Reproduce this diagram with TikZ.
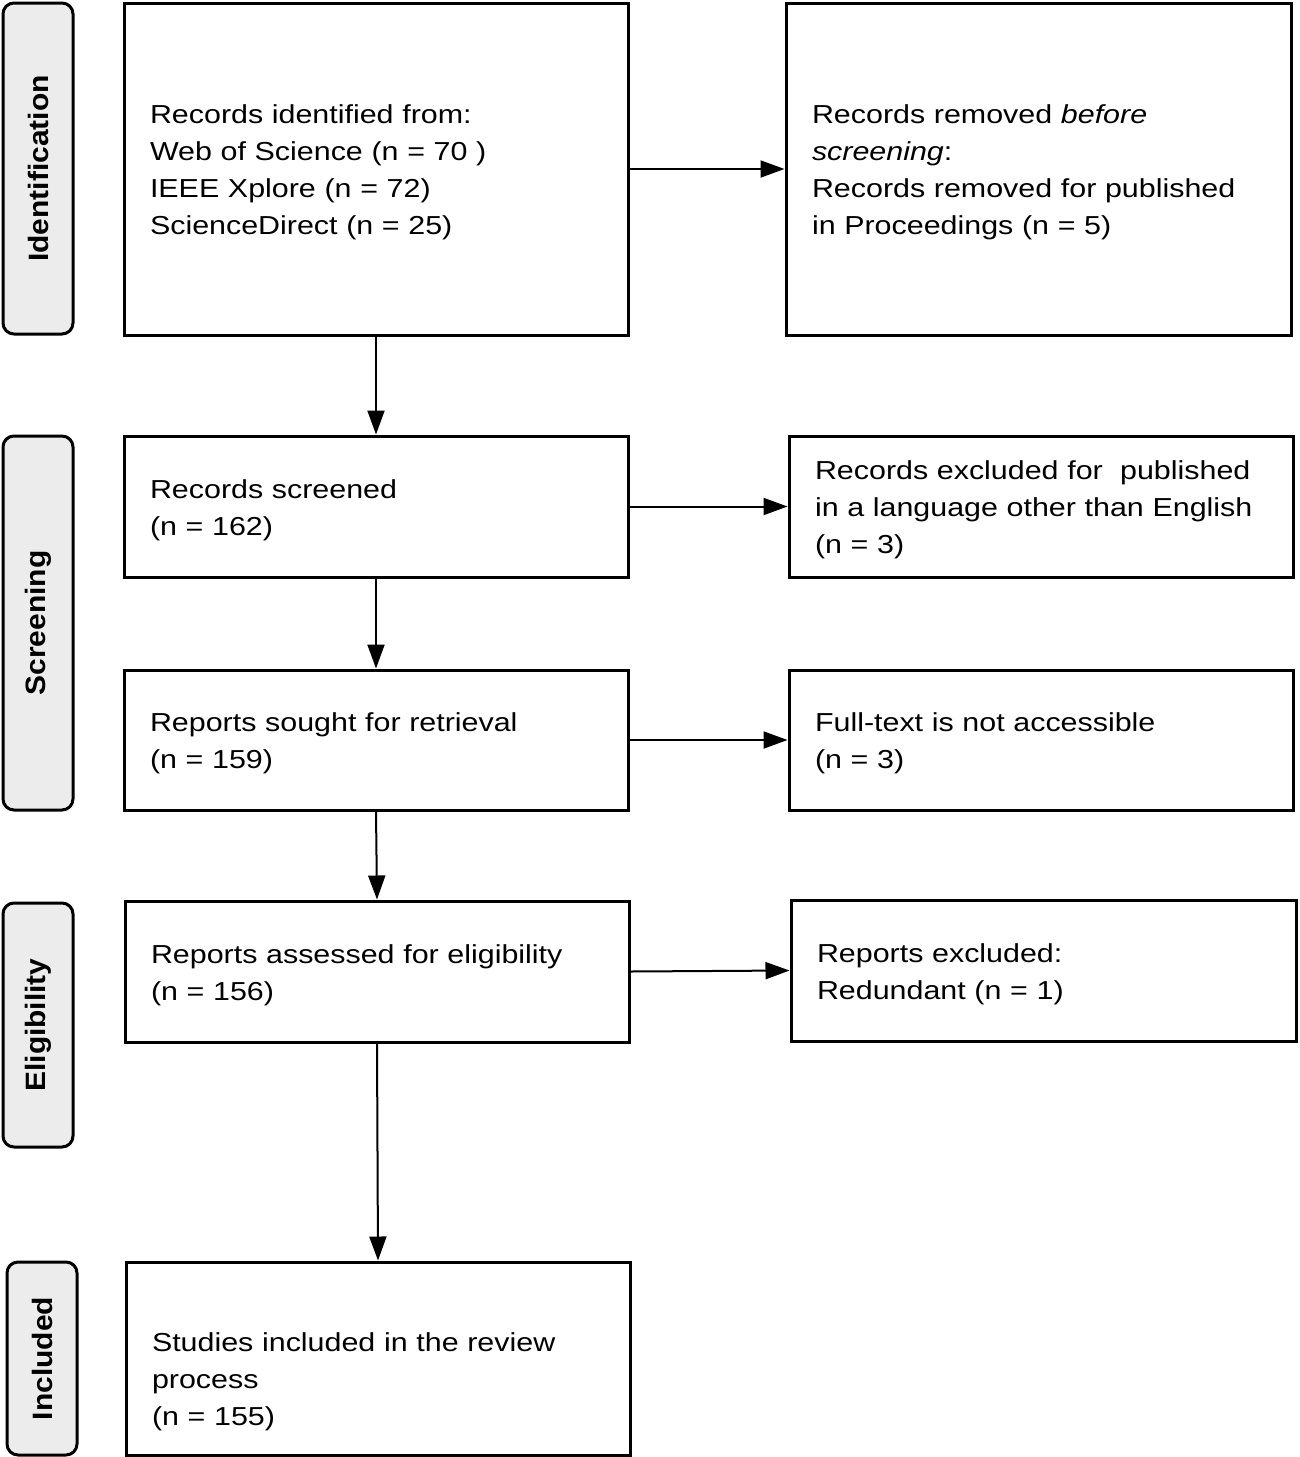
\documentclass[tikz,border=0pt]{standalone}
\usepackage{fontspec}
\setmainfont{Liberation Sans}[FakeStretch=1.17]
\newfontfamily\sidefont{Liberation Sans}[FakeStretch=1.07]
\usetikzlibrary{arrows.meta}
\definecolor{sidegray}{HTML}{ECECEC}
\begin{document}
\begin{tikzpicture}[x=1pt,y=-1pt,
  box/.style={draw=black, line width=3pt, rectangle, align=left, inner xsep=26pt, inner ysep=0pt,
    font=\fontsize{26}{37}\selectfont, execute at begin node={\rule{0pt}{26pt}}},
  lowbox/.style={box, execute at begin node={\rule{0pt}{66pt}}},
  side/.style={draw=black, line width=3pt, fill=sidegray, rounded corners=11pt, inner sep=0pt,
    minimum width=70pt},
  sidetext/.style={rotate=90, font=\sidefont\bfseries\fontsize{28}{32}\selectfont},
  arr/.style={line width=2pt, -{Triangle[length=24pt,width=17pt]}}]
\useasboundingbox (0,0) rectangle (1299,1457);

% phase labels
\node[side, minimum height=331pt] (sId) at (38,168.5) {};
\node[sidetext] (tId) at (sId.center) {Identification};
\node[side, minimum height=374pt] (sSc) at (38,623) {};
\node[sidetext] (tSc) at (sSc.center) {Screening};
\node[side, minimum height=244pt] (sEl) at (38,1025) {};
\node[sidetext] (tEl) at (sEl.center) {Eligibility};
\node[side, minimum height=193pt] (sIn) at (42,1358.5) {};
\node[sidetext] (tIn) at (sIn.center) {Included};

% boxes
\node[box, text width=452pt, minimum height=332pt] (A) at (376,169)
  {Records identified from:\\Web of Science (n = 70 )\\IEEE Xplore (n = 72)\\ScienceDirect (n = 25)};
\node[box, text width=453pt, minimum height=332pt] (B) at (1038.5,169)
  {Records removed \textit{before}\\\textit{screening}:\\Records removed for published\\in Proceedings (n = 5)};
\node[box, text width=452pt, minimum height=141pt] (C) at (376,506.5)
  {Records screened\\(n = 162)};
\node[box, text width=452pt, minimum height=141pt] (D) at (1041,506.5)
  {Records excluded for~ published\\in a language other than English\\(n = 3)};
\node[box, text width=452pt, minimum height=140pt] (E) at (376,740)
  {Reports sought for retrieval\\(n = 159)};
\node[box, text width=452pt, minimum height=140pt] (F) at (1041,740)
  {Full-text is not accessible\\(n = 3)};
\node[box, text width=452pt, minimum height=141pt] (G) at (377,971.5)
  {Reports assessed for eligibility\\(n = 156)};
\node[box, text width=453pt, minimum height=141pt] (H) at (1043.5,970.5)
  {Reports excluded:\\Redundant (n = 1)};
\node[lowbox, text width=452pt, minimum height=193pt] (I) at (378,1358.5)
  {Studies included in the review\\process\\(n = 155)};

% connectors
\draw[arr] (A.east) -- (B.west);
\draw[arr] (C.east) -- (D.west);
\draw[arr] (E.east) -- (F.west);
\draw[arr] (G.east) -- (H.west);
\draw[arr] (A.south) -- (C.north);
\draw[arr] (C.south) -- (E.north);
\draw[arr] (E.south) -- (G.north);
\draw[arr] (G.south) -- (I.north);
\end{tikzpicture}
\end{document}
